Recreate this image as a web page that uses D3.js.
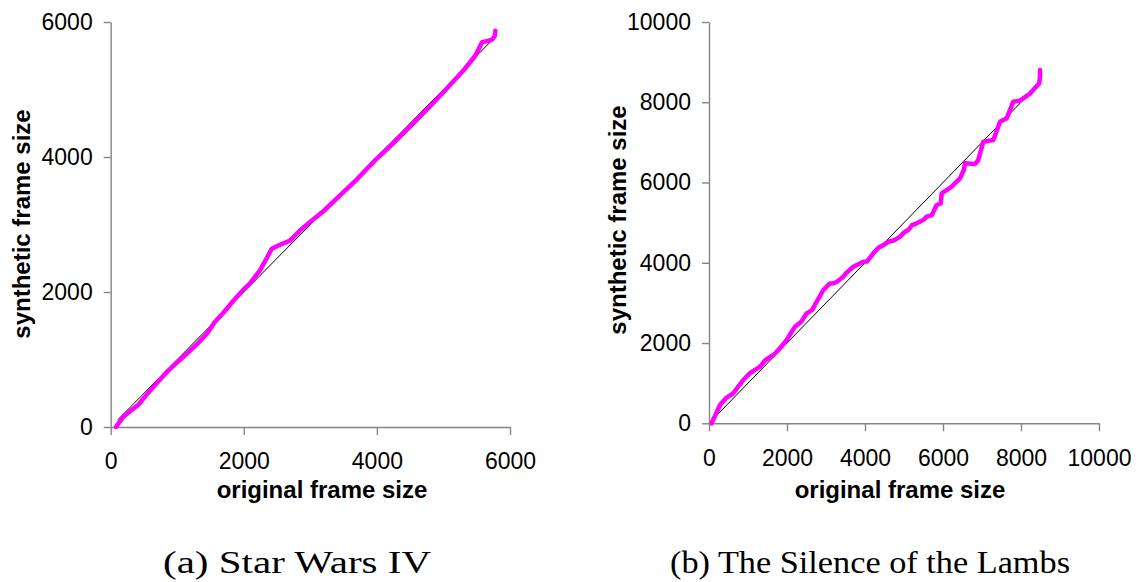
<!DOCTYPE html>
<html>
<head>
<meta charset="utf-8">
<script src="https://cdn.jsdelivr.net/npm/d3@7"></script>
<style>
  html, body { margin: 0; padding: 0; background: #fff; }
  svg { display: block; }
</style>
</head>
<body>
<svg id="chart" width="1140" height="582"></svg>
<script>
// Q-Q comparison of original vs. synthetic frame sizes for two traces.

// (a) Star Wars IV
const swOriginal  = [80, 120, 200, 300, 415, 550, 700, 850, 1000, 1150, 1300, 1450, 1567, 1700, 1843, 2000, 2093, 2243, 2344, 2419, 2544, 2694, 2844, 3000, 3200, 3434, 3700, 3971, 4240, 4509, 4778, 5047, 5316, 5477, 5540, 5580, 5666, 5730, 5770, 5780];
const swSynthetic = [0, 60, 160, 240, 330, 490, 660, 820, 960, 1090, 1230, 1390, 1560, 1700, 1870, 2040, 2129, 2320, 2500, 2640, 2700, 2760, 2910, 3040, 3200, 3420, 3670, 3950, 4200, 4460, 4730, 5010, 5300, 5500, 5620, 5700, 5720, 5740, 5790, 5870];
const swDiagonal  = [110, 5770];
const swTicks     = [0, 2000, 4000, 6000];

// (b) The Silence of the Lambs
const slOriginal  = [69, 110, 165, 282, 450, 623, 715, 880, 1050, 1308, 1449, 1649, 1800, 1992, 2100, 2205, 2365, 2505, 2640, 2762, 2932, 3098, 3188, 3281, 3444, 3510, 3700, 3800, 3957, 4050, 4213, 4350, 4473, 4598, 4750, 4897, 5022, 5111, 5206, 5325, 5495, 5582, 5710, 5838, 5940, 5967, 6214, 6436, 6530, 6564, 6821, 6900, 7034, 7290, 7462, 7633, 7803, 7974, 8231, 8469, 8487, 8487];
const slSynthetic = [0, 100, 207, 456, 640, 748, 871, 1079, 1250, 1410, 1577, 1702, 1850, 2076, 2250, 2407, 2531, 2741, 2822, 3030, 3322, 3485, 3489, 3527, 3653, 3734, 3902, 3950, 4027, 4030, 4236, 4380, 4440, 4525, 4560, 4650, 4772, 4817, 4938, 4984, 5066, 5148, 5187, 5440, 5477, 5731, 5892, 6105, 6300, 6479, 6460, 6550, 7017, 7059, 7516, 7600, 8014, 8039, 8216, 8473, 8650, 8804];
const slDiagonal  = [80, 8480];
const slTicks     = [0, 2000, 4000, 6000, 8000, 10000];

const xTitle = "original frame size";
const yTitle = "synthetic frame size";
const captions = ["(a) Star Wars IV", "(b) The Silence of the Lambs"];

const svg = d3.select("#chart");
const AXIS_GREY = "#858585";
const SANS = "'Liberation Sans', Arial, sans-serif";
const SERIF = "'Liberation Serif', 'Times New Roman', serif";

function drawPanel(cfg) {
  const x = d3.scaleLinear().domain(cfg.domain).range(cfg.xRange);
  const y = d3.scaleLinear().domain(cfg.domain).range(cfg.yRange);
  const g = svg.append("g");

  // y axis
  const ya = g.append("g")
    .attr("transform", `translate(${cfg.xRange[0]},0)`)
    .call(d3.axisLeft(y).tickValues(cfg.ticks).tickSize(7).tickSizeOuter(0).tickPadding(11).tickFormat(d3.format("d")));
  // x axis
  const xa = g.append("g")
    .attr("transform", `translate(0,${cfg.yRange[0]})`)
    .call(d3.axisBottom(x).tickValues(cfg.ticks).tickSize(8).tickSizeOuter(0).tickPadding(18).tickFormat(d3.format("d")));

  [ya, xa].forEach(a => {
    a.select(".domain").attr("stroke", AXIS_GREY).attr("stroke-width", 1.4);
    a.selectAll(".tick line").attr("stroke", AXIS_GREY).attr("stroke-width", 1.4);
    a.selectAll(".tick text").attr("fill", "#000").style("font-family", SANS).style("font-size", "23px");
  });
  xa.selectAll(".tick text").attr("dy", "0.71em");

  // reference diagonal y = x
  const diag = cfg.diagonal.map(v => [v, v]);
  g.append("path")
    .datum(diag)
    .attr("fill", "none")
    .attr("stroke", "#000")
    .attr("stroke-width", 1)
    .attr("d", d3.line().x(d => x(d[0])).y(d => y(d[1])));

  // quantile curve
  const pts = cfg.orig.map((v, i) => [v, cfg.synth[i]]);
  g.append("path")
    .datum(pts)
    .attr("fill", "none")
    .attr("stroke", "#ff00ff")
    .attr("stroke-width", 4.5)
    .attr("stroke-linejoin", "round")
    .attr("stroke-linecap", "round")
    .attr("d", d3.line().x(d => x(d[0])).y(d => y(d[1])));

  // axis titles
  g.append("text")
    .attr("x", cfg.xTitlePos[0]).attr("y", cfg.xTitlePos[1])
    .attr("text-anchor", "middle")
    .style("font-family", SANS).style("font-size", "24px").style("font-weight", "bold")
    .text(xTitle);
  g.append("text")
    .attr("transform", `translate(${cfg.yTitlePos[0]},${cfg.yTitlePos[1]}) rotate(-90)`)
    .attr("text-anchor", "middle")
    .attr("dominant-baseline", "central")
    .style("font-family", SANS).style("font-size", "24px").style("font-weight", "bold")
    .text(yTitle);

  // caption
  g.append("text")
    .attr("x", cfg.captionPos[0]).attr("y", cfg.captionPos[1])
    .attr("text-anchor", "middle")
    .attr("textLength", cfg.captionWidth)
    .attr("lengthAdjust", "spacingAndGlyphs")
    .style("font-family", SERIF).style("font-size", "32px")
    .text(cfg.caption);
}

drawPanel({
  domain: [0, 6000], xRange: [110.7, 510], yRange: [427, 22],
  ticks: swTicks, orig: swOriginal, synth: swSynthetic, diagonal: swDiagonal,
  xTitlePos: [322, 498], yTitlePos: [21, 224],
  captionPos: [297, 573], captionWidth: 268, caption: captions[0]
});

drawPanel({
  domain: [0, 10000], xRange: [709, 1099], yRange: [423.3, 22],
  ticks: slTicks, orig: slOriginal, synth: slSynthetic, diagonal: slDiagonal,
  xTitlePos: [900, 498], yTitlePos: [617, 220],
  captionPos: [870, 573], captionWidth: 400, caption: captions[1]
});
</script>
</body>
</html>
